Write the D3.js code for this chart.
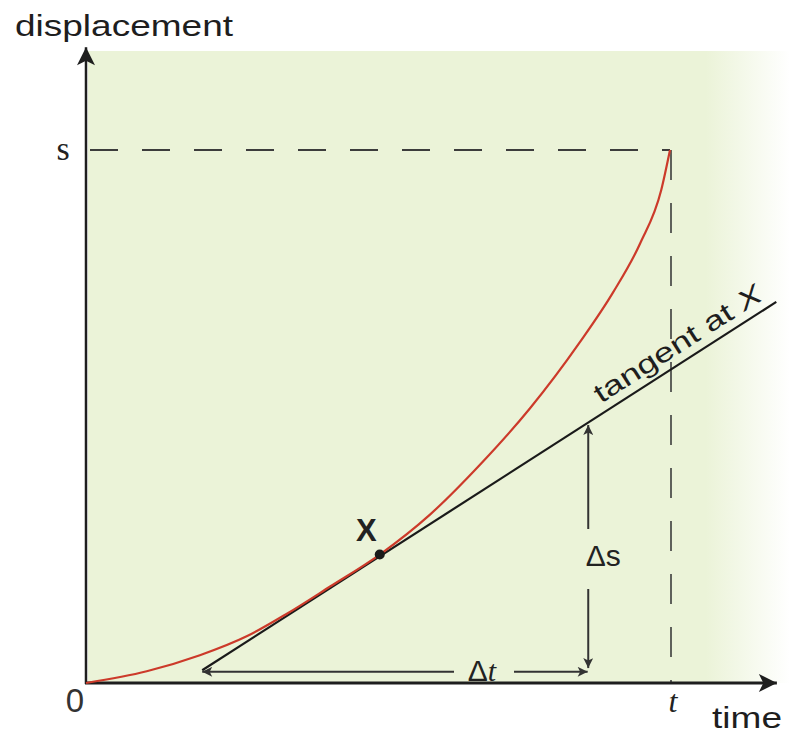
<!DOCTYPE html>
<html>
<head>
<meta charset="utf-8">
<script src="https://cdn.jsdelivr.net/npm/d3@7"></script>
<style>
  body { margin: 0; background: #fff; }
  svg { display: block; }
</style>
</head>
<body>
<div id="chart"></div>
<script>
// displacement-time curve (time and displacement as fractions of t and s)
const curveT = [0, 0.104, 0.195, 0.276, 0.344, 0.418, 0.503, 0.589, 0.675, 0.760, 0.846, 0.902, 0.949, 0.985, 1];
const curveS = [0, 0.022, 0.052, 0.088, 0.130, 0.181, 0.241, 0.316, 0.410, 0.515, 0.640, 0.732, 0.825, 0.925, 1];

// point X and the tangent through it
const pointX = { t: 0.503, s: 0.241 };
const tangentT = [0.199, 1.182];
const tangentS = [0.024, 0.715];

// delta triangle
const deltaT = [0.199, 0.859];   // horizontal arrow, at deltaTLevel
const deltaTLevel = 0.021;
const deltaS = [0.028, 0.484];   // vertical arrow, at deltaSPos
const deltaSPos = 0.860;

// axis extents
const axisEndT = 1.183;
const axisEndS = 1.193;

const width = 794, height = 734;

const x = d3.scaleLinear().domain([0, 1]).range([86, 670]);
const y = d3.scaleLinear().domain([0, 1]).range([683, 150]);

const svg = d3.select("#chart")
  .append("svg")
  .attr("width", width)
  .attr("height", height);

const defs = svg.append("defs");

// green paper that fades out to the right
const grad = defs.append("linearGradient")
  .attr("id", "paper")
  .attr("x1", "0").attr("x2", "1").attr("y1", "0").attr("y2", "0");
grad.append("stop").attr("offset", "0").attr("stop-color", "#ebf3d8");
grad.append("stop").attr("offset", "0.88").attr("stop-color", "#ebf3d8");
grad.append("stop").attr("offset", "1").attr("stop-color", "#ffffff");

svg.append("rect")
  .attr("x", x(0) + 2)
  .attr("y", 51)
  .attr("width", 790 - x(0) - 2)
  .attr("height", y(0) - 51)
  .attr("fill", "url(#paper)");

// arrowheads
function addMarker(id, w, h, color) {
  defs.append("marker")
    .attr("id", id)
    .attr("viewBox", "0 0 10 10")
    .attr("refX", 10).attr("refY", 5)
    .attr("markerUnits", "userSpaceOnUse")
    .attr("markerWidth", w).attr("markerHeight", h)
    .attr("orient", "auto-start-reverse")
    .append("path")
    .attr("d", "M0,0 L10,5 L0,10 L2.5,5 Z")
    .attr("fill", color);
}
addMarker("axisHead", 22, 18, "#1e1e1e");
addMarker("smallHead", 14, 10, "#333");

// dashed guides at s and t
svg.append("line")
  .attr("x1", x(0)).attr("x2", x(1))
  .attr("y1", y(1)).attr("y2", y(1))
  .attr("stroke", "#3c3c3c").attr("stroke-width", 2)
  .attr("stroke-dasharray", "28,24")
  .attr("stroke-dashoffset", -4);

svg.append("line")
  .attr("x1", x(1) + 1).attr("x2", x(1) + 1)
  .attr("y1", y(1)).attr("y2", y(0))
  .attr("stroke", "#3c3c3c").attr("stroke-width", 1.6)
  .attr("stroke-dasharray", "30,23");

// axes
svg.append("line")
  .attr("x1", x(0)).attr("x2", x(0))
  .attr("y1", y(0) + 1).attr("y2", y(axisEndS))
  .attr("stroke", "#1e1e1e").attr("stroke-width", 2.5)
  .attr("marker-end", "url(#axisHead)");

svg.append("line")
  .attr("x1", x(0) - 1).attr("x2", x(axisEndT))
  .attr("y1", y(0)).attr("y2", y(0))
  .attr("stroke", "#1e1e1e").attr("stroke-width", 3)
  .attr("marker-end", "url(#axisHead)");

// tangent line
svg.append("line")
  .attr("x1", x(tangentT[0])).attr("y1", y(tangentS[0]))
  .attr("x2", x(tangentT[1])).attr("y2", y(tangentS[1]))
  .attr("stroke", "#1a1a1a").attr("stroke-width", 2.2);

// red curve
const curveData = curveT.map((t, i) => ({ t: t, s: curveS[i] }));
svg.append("path")
  .datum(curveData)
  .attr("d", d3.line().x(d => x(d.t)).y(d => y(d.s)).curve(d3.curveMonotoneX))
  .attr("fill", "none")
  .attr("stroke", "#cc3a2a")
  .attr("stroke-width", 2.2);

// point X
svg.append("circle")
  .attr("cx", x(pointX.t)).attr("cy", y(pointX.s))
  .attr("r", 5)
  .attr("fill", "#1a1a1a");

svg.append("text")
  .attr("x", x(pointX.t) - 3).attr("y", y(pointX.s) - 14)
  .attr("text-anchor", "end")
  .attr("font-family", "Liberation Sans, Arial, sans-serif")
  .attr("font-weight", "bold")
  .attr("font-size", 31)
  .attr("fill", "#222")
  .text("X");

// delta t arrow (split around the label)
const dtMid = 482;
svg.append("line")
  .attr("x1", dtMid - 28).attr("x2", x(deltaT[0]))
  .attr("y1", y(deltaTLevel)).attr("y2", y(deltaTLevel))
  .attr("stroke", "#333").attr("stroke-width", 2)
  .attr("marker-end", "url(#smallHead)");
svg.append("line")
  .attr("x1", dtMid + 32).attr("x2", x(deltaT[1]))
  .attr("y1", y(deltaTLevel)).attr("y2", y(deltaTLevel))
  .attr("stroke", "#333").attr("stroke-width", 2)
  .attr("marker-end", "url(#smallHead)");

const dtLabel = svg.append("text")
  .attr("x", dtMid).attr("y", y(deltaTLevel) + 9)
  .attr("text-anchor", "middle")
  .attr("font-size", 30)
  .attr("fill", "#222");
dtLabel.append("tspan")
  .attr("font-family", "Liberation Sans, Arial, sans-serif")
  .text("Δ");
dtLabel.append("tspan")
  .attr("font-family", "Liberation Serif, Times New Roman, serif")
  .attr("font-style", "italic")
  .text("t");

// delta s arrow (split around the label)
const dsMid = 555;
svg.append("line")
  .attr("x1", x(deltaSPos)).attr("x2", x(deltaSPos))
  .attr("y1", dsMid - 26).attr("y2", y(deltaS[1]))
  .attr("stroke", "#333").attr("stroke-width", 2)
  .attr("marker-end", "url(#smallHead)");
svg.append("line")
  .attr("x1", x(deltaSPos)).attr("x2", x(deltaSPos))
  .attr("y1", dsMid + 34).attr("y2", y(deltaS[0]))
  .attr("stroke", "#333").attr("stroke-width", 2)
  .attr("marker-end", "url(#smallHead)");

svg.append("text")
  .attr("x", x(deltaSPos) + 15).attr("y", dsMid + 11)
  .attr("text-anchor", "middle")
  .attr("font-family", "Liberation Sans, Arial, sans-serif")
  .attr("font-size", 30)
  .attr("fill", "#222")
  .text("Δs");

// tangent label, rotated along the line
const tanAngle = Math.atan2(y(tangentS[1]) - y(tangentS[0]), x(tangentT[1]) - x(tangentT[0])) * 180 / Math.PI;
const tanStartT = 0.89;
const tanStartS = tangentS[0] + (tanStartT - tangentT[0]) * (tangentS[1] - tangentS[0]) / (tangentT[1] - tangentT[0]);
const tanLabel = svg.append("text")
  .attr("transform", `translate(${x(tanStartT)},${y(tanStartS)}) rotate(${tanAngle}) translate(0,-9)`)
  .attr("font-family", "Liberation Sans, Arial, sans-serif")
  .attr("font-size", 27)
  .attr("fill", "#1e1e1e")
  .attr("textLength", 194)
  .attr("lengthAdjust", "spacingAndGlyphs");
tanLabel.append("tspan").text("tangent at ");
tanLabel.append("tspan").attr("font-style", "italic").text("X");

// axis labels
svg.append("text")
  .attr("x", 15).attr("y", 36)
  .attr("font-family", "Liberation Sans, Arial, sans-serif")
  .attr("font-size", 30)
  .attr("fill", "#1e1e1e")
  .attr("textLength", 218)
  .attr("lengthAdjust", "spacingAndGlyphs")
  .text("displacement");

svg.append("text")
  .attr("x", 712).attr("y", 728)
  .attr("font-family", "Liberation Sans, Arial, sans-serif")
  .attr("font-size", 30)
  .attr("fill", "#1e1e1e")
  .attr("textLength", 70)
  .attr("lengthAdjust", "spacingAndGlyphs")
  .text("time");

svg.append("text")
  .attr("x", x(0) - 11).attr("y", y(0) + 29)
  .attr("text-anchor", "middle")
  .attr("font-family", "Liberation Sans, Arial, sans-serif")
  .attr("font-size", 33)
  .attr("fill", "#333")
  .text("0");

svg.append("text")
  .attr("x", x(0) - 23).attr("y", y(1) + 10)
  .attr("text-anchor", "middle")
  .attr("font-family", "Liberation Serif, Times New Roman, serif")
  .attr("font-size", 34)
  .attr("fill", "#222")
  .text("s");

svg.append("text")
  .attr("x", x(1) + 3).attr("y", y(0) + 29)
  .attr("text-anchor", "middle")
  .attr("font-family", "Liberation Serif, Times New Roman, serif")
  .attr("font-style", "italic")
  .attr("font-size", 32)
  .attr("fill", "#222")
  .text("t");
</script>
</body>
</html>
